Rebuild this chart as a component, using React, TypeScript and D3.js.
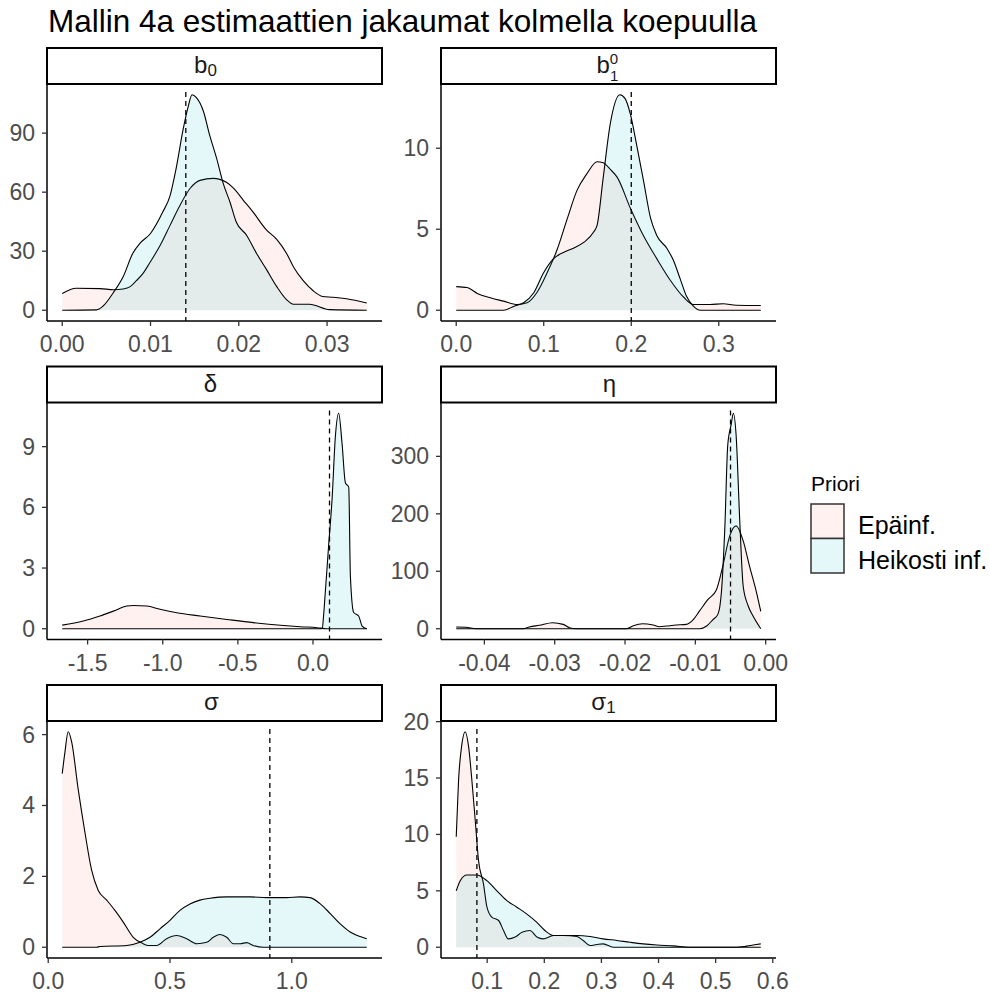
import * as d3 from 'd3';
import React from 'react';

type Pt = [number, number];

// facet order and legend
const priorNames = ['Epäinf.', 'Heikosti inf.'];
const priorColors = ['#F8766D', '#00BFC4'];

// density estimates: [value, density]
const b0Epainf: Pt[] = [[0, 8.5], [0.0016, 11.2], [0.0043, 11], [0.0058, 10.4], [0.0069, 10.8], [0.0077, 12], [0.0084, 15], [0.0092, 19], [0.0099, 24], [0.0111, 33], [0.0122, 43], [0.0133, 53], [0.0145, 62], [0.0156, 66], [0.0171, 67], [0.0186, 65], [0.0194, 62], [0.0205, 56], [0.0216, 50], [0.0231, 41], [0.0243, 36], [0.0254, 29], [0.0262, 22], [0.0273, 15], [0.0284, 10], [0.0295, 7], [0.0307, 6.6], [0.0322, 5.8], [0.0345, 3.7]];
const b0Heikosti: Pt[] = [[0, 0], [0.0039, 0.2], [0.0046, 2], [0.0058, 9], [0.0069, 17], [0.008, 29], [0.0088, 34], [0.01, 39], [0.0114, 50], [0.0122, 58], [0.0129, 72], [0.0137, 92], [0.0143, 104], [0.0147, 109.5], [0.0152, 108], [0.016, 101], [0.0167, 89], [0.0175, 77], [0.0182, 65], [0.019, 55], [0.0197, 45], [0.0209, 38], [0.022, 29], [0.0231, 21], [0.0243, 12], [0.0254, 5.4], [0.0262, 3], [0.028, 3], [0.0303, 0.3], [0.0345, 0]];

const b1Epainf: Pt[] = [[0, 1.46], [0.0125, 1.4], [0.024, 1.04], [0.039, 0.77], [0.054, 0.56], [0.07, 0.35], [0.081, 0.46], [0.092, 1.08], [0.104, 2.33], [0.115, 3.7], [0.127, 5.67], [0.138, 7.4], [0.149, 8.4], [0.161, 9.17], [0.168, 9.1], [0.176, 8.7], [0.184, 8.2], [0.199, 6.3], [0.214, 4.6], [0.229, 3.2], [0.244, 1.9], [0.26, 0.8], [0.271, 0.35], [0.29, 0.35], [0.305, 0.4], [0.32, 0.31], [0.348, 0.29]];
const b1Heikosti: Pt[] = [[0, 0], [0.054, 0], [0.066, 0.25], [0.077, 0.46], [0.0886, 1.08], [0.1, 2.33], [0.111, 3.17], [0.123, 3.58], [0.134, 3.83], [0.146, 4.2], [0.157, 4.83], [0.161, 5.25], [0.168, 8.2], [0.176, 11.5], [0.187, 13.3], [0.193, 13.06], [0.199, 12.1], [0.206, 10.25], [0.214, 8], [0.222, 5.7], [0.229, 4.63], [0.241, 3.8], [0.248, 3.1], [0.256, 1.92], [0.263, 0.875], [0.271, 0.25], [0.279, 0], [0.348, 0]];

const deltaEpainf: Pt[] = [[-1.669, 0.18], [-1.529, 0.38], [-1.418, 0.63], [-1.329, 0.87], [-1.24, 1.12], [-1.196, 1.15], [-1.107, 1.12], [-1.018, 0.96], [-0.907, 0.79], [-0.751, 0.63], [-0.573, 0.46], [-0.396, 0.3], [-0.196, 0.16], [-0.084, 0.1], [0.027, 0.05], [0.093, 0], [0.358, 0]];
const deltaHeikosti: Pt[] = [[-1.669, 0], [0.062, 0], [0.07, 0.6], [0.082, 1.8], [0.104, 4.1], [0.127, 6.4], [0.149, 9.5], [0.171, 10.65], [0.193, 9.2], [0.216, 7.2], [0.238, 7.0], [0.249, 2.6], [0.271, 0.8], [0.304, 0.63], [0.327, 0.13], [0.358, 0]];

const etaEpainf: Pt[] = [[-0.044, 2.9], [-0.0426, 2.5], [-0.0412, 0], [-0.0345, 0], [-0.0336, 3], [-0.0322, 6], [-0.0303, 10.5], [-0.0288, 7.6], [-0.0279, 1.7], [-0.027, 0], [-0.0198, 0], [-0.0189, 4.7], [-0.0175, 8.7], [-0.016, 6.4], [-0.0151, 3.5], [-0.0141, 4.7], [-0.0127, 6.4], [-0.0113, 7.6], [-0.0103, 16], [-0.0094, 31], [-0.0082, 51], [-0.007, 68], [-0.0061, 109], [-0.0051, 162], [-0.0042, 179], [-0.0032, 153], [-0.0023, 109], [-0.0013, 63], [-0.0007, 30]];
const etaHeikosti: Pt[] = [[-0.044, 0], [-0.0094, 0], [-0.0084, 4.7], [-0.0075, 16], [-0.0068, 25], [-0.0063, 63], [-0.0058, 179], [-0.0054, 319], [-0.0049, 356], [-0.0046, 375], [-0.0042, 336], [-0.0037, 191], [-0.0032, 74], [-0.0025, 40], [-0.0018, 22], [-0.0007, 0]];

const sigmaEpainf: Pt[] = [[0.0575, 4.9], [0.0685, 5.5], [0.082, 6.08], [0.096, 5.8], [0.123, 4.46], [0.151, 3.23], [0.178, 2.18], [0.205, 1.61], [0.24, 1.33], [0.274, 1.04], [0.308, 0.71], [0.349, 0.28], [0.39, 0.1], [0.411, 0.05], [0.445, 0.05], [0.486, 0.24], [0.527, 0.33], [0.568, 0.24], [0.61, 0.1], [0.651, 0.14], [0.678, 0.28], [0.705, 0.36], [0.733, 0.28], [0.76, 0.1], [0.788, 0.1], [0.815, 0.13], [0.842, 0.05], [0.884, 0], [1.308, 0]];
const sigmaHeikosti: Pt[] = [[0.0575, 0], [0.199, 0], [0.212, 0.02], [0.322, 0.05], [0.377, 0.14], [0.418, 0.28], [0.459, 0.52], [0.5, 0.76], [0.541, 1.04], [0.582, 1.22], [0.623, 1.33], [0.664, 1.38], [0.733, 1.42], [0.829, 1.42], [0.897, 1.4], [0.979, 1.4], [1.034, 1.42], [1.075, 1.4], [1.116, 1.23], [1.158, 0.95], [1.199, 0.66], [1.24, 0.43], [1.281, 0.3], [1.308, 0.24]];

const sigma1Epainf: Pt[] = [[0.0458, 9.8], [0.0499, 14.8], [0.0557, 18], [0.0615, 19.1], [0.0674, 17.8], [0.0732, 14.8], [0.079, 11.3], [0.0848, 7.7], [0.0936, 5.6], [0.0994, 3.6], [0.108, 2.67], [0.12, 2.37], [0.1286, 1.48], [0.137, 0.74], [0.149, 0.9], [0.161, 1.33], [0.175, 1.48], [0.187, 0.9], [0.198, 0.74], [0.216, 1.04], [0.233, 1.04], [0.257, 0.95], [0.268, 0.6], [0.28, 0.15], [0.292, 0.24], [0.303, 0.3], [0.321, 0], [0.536, 0], [0.554, 0.1], [0.571, 0.24], [0.579, 0.3]];
const sigma1Heikosti: Pt[] = [[0.0458, 5.0], [0.0528, 5.9], [0.0645, 6.4], [0.0819, 6.4], [0.0994, 5.9], [0.117, 5.0], [0.134, 4.15], [0.152, 3.55], [0.169, 2.96], [0.187, 2.2], [0.201, 1.48], [0.216, 1.04], [0.233, 1.04], [0.257, 1.04], [0.28, 0.95], [0.303, 0.74], [0.327, 0.6], [0.35, 0.44], [0.373, 0.3], [0.397, 0.2], [0.426, 0.12], [0.455, 0], [0.579, 0]];

// dashed reference values
const trueValues = [0.014, 0.2, 0.11, -0.005, 0.91, 0.082];

const xTicks = [[0, 0.01, 0.02, 0.03], [0, 0.1, 0.2, 0.3], [-1.5, -1, -0.5, 0], [-0.04, -0.03, -0.02, -0.01, 0], [0, 0.5, 1], [0.1, 0.2, 0.3, 0.4, 0.5, 0.6]];
const xFormats = ['.2f', '.1f', '.1f', '.2f', '.1f', '.1f'];
const yTicks = [[0, 30, 60, 90], [0, 5, 10], [0, 3, 6, 9], [0, 100, 200, 300], [0, 2, 4, 6], [0, 5, 10, 15, 20]];

const series = [
  [b0Epainf, b0Heikosti],
  [b1Epainf, b1Heikosti],
  [deltaEpainf, deltaHeikosti],
  [etaEpainf, etaHeikosti],
  [sigmaEpainf, sigmaHeikosti],
  [sigma1Epainf, sigma1Heikosti],
];

const locale = d3.formatLocale({ decimal: '.', thousands: ',', grouping: [3], currency: ['', ''], minus: '-' });
const FONT = '"Liberation Sans", Arial, sans-serif';

const colX = [47, 441];
const panelW = 335;
const stripTop = 48;
const stripH = 36;
const panelH = 237;
const rowStep = 318.5;

function StripLabel({ i, cx, y }: { i: number; cx: number; y: number }) {
  const s = { fontFamily: FONT, fontSize: 24, fill: '#1A1A1A' } as const;
  if (i === 0) return <text x={cx - 9} y={y} textAnchor="middle" style={s}>b<tspan fontSize={17} dy={3}>0</tspan></text>;
  if (i === 1) {
    // b with stacked sub- and superscript
    const bx = cx - 12;
    return (
      <text x={bx} y={y} style={s}>b<tspan fontSize={15} dy={-9}>0</tspan><tspan fontSize={15} x={bx + 13.5} dy={17}>1</tspan></text>
    );
  }
  if (i === 2) return <text x={cx - 4} y={y} textAnchor="middle" style={s}>δ</text>;
  if (i === 3) return <text x={cx + 1} y={y} textAnchor="middle" style={s}>η</text>;
  if (i === 4) return <text x={cx - 3} y={y} textAnchor="middle" style={s}>σ</text>;
  return <text x={cx - 5} y={y} textAnchor="middle" style={s}>σ<tspan fontSize={17} dy={3}>1</tspan></text>;
}

function Panel({ i }: { i: number }) {
  const col = i % 2;
  const row = Math.floor(i / 2);
  const x0 = colX[col];
  const sTop = stripTop + row * rowStep;
  const pTop = sTop + stripH;
  const pBot = pTop + panelH;

  const all = series[i][0].concat(series[i][1]);
  const [xmin, xmax] = d3.extent(all, d => d[0]) as [number, number];
  const ymax = d3.max(all, d => d[1]) as number;
  const xpad = (xmax - xmin) * 0.05;
  const x = d3.scaleLinear().domain([xmin - xpad, xmax + xpad]).range([x0, x0 + panelW]);
  const y = d3.scaleLinear().domain([-0.05 * ymax, 1.05 * ymax]).range([pBot, pTop]);

  const area = d3.area<Pt>().x(d => x(d[0])).y0(y(0)).y1(d => y(d[1])).curve(d3.curveMonotoneX);
  const line = d3.line<Pt>().x(d => x(d[0])).y(d => y(d[1])).curve(d3.curveMonotoneX);
  const fmt = locale.format(xFormats[i]);

  return (
    <g>
      {series[i].map((s, k) => (
        <g key={k}>
          <path d={area(s) || ''} fill={priorColors[k]} fillOpacity={0.1} />
          <path d={line(s) || ''} fill="none" stroke="#000" strokeWidth={1.1} />
        </g>
      ))}
      <line x1={x(trueValues[i])} x2={x(trueValues[i])} y1={pTop + 8} y2={pBot} stroke="#000" strokeWidth={1.3} strokeDasharray="5,4" />
      {/* axes */}
      <line x1={x0} x2={x0} y1={pTop} y2={pBot} stroke="#000" strokeWidth={1.5} />
      <line x1={x0} x2={x0 + panelW} y1={pBot} y2={pBot} stroke="#000" strokeWidth={1.5} />
      {yTicks[i].map(t => (
        <g key={'y' + t}>
          <line x1={x0 - 5} x2={x0} y1={y(t)} y2={y(t)} stroke="#333" strokeWidth={1.3} />
          <text x={x0 - 12} y={y(t)} dy={8} textAnchor="end" style={{ fontFamily: FONT, fontSize: 23, fill: '#4D4D4D' }}>{t}</text>
        </g>
      ))}
      {xTicks[i].map(t => (
        <g key={'x' + t}>
          <line x1={x(t)} x2={x(t)} y1={pBot} y2={pBot + 5} stroke="#333" strokeWidth={1.3} />
          <text x={x(t)} y={pBot + 31} textAnchor="middle" style={{ fontFamily: FONT, fontSize: 23, fill: '#4D4D4D' }}>{fmt(t)}</text>
        </g>
      ))}
      <rect x={x0} y={sTop} width={panelW} height={stripH} fill="#fff" stroke="#000" strokeWidth={2} />
      <StripLabel i={i} cx={x0 + panelW / 2} y={sTop + 25} />
    </g>
  );
}

export default function App() {
  return (
    <svg width={989} height={994} style={{ position: 'absolute', left: 0, top: 0, background: '#fff' }}>
      <rect width={989} height={994} fill="#fff" />
      <text x={48} y={32} style={{ fontFamily: FONT, fontSize: 31.5, fill: '#000' }}>Mallin 4a estimaattien jakaumat kolmella koepuulla</text>
      {d3.range(6).map(i => <Panel key={i} i={i} />)}
      <g>
        <text x={811} y={491} style={{ fontFamily: FONT, fontSize: 21, fill: '#000' }}>Priori</text>
        {priorNames.map((n, k) => (
          <g key={n}>
            <rect x={811} y={504 + k * 34.5} width={33} height={34.5} fill="#fff" />
            <rect x={811} y={504 + k * 34.5} width={33} height={34.5} fill={priorColors[k]} fillOpacity={0.1} stroke="#333" strokeWidth={1.5} />
            <text x={858} y={534 + k * 35} style={{ fontFamily: FONT, fontSize: 25, fill: '#000' }}>{n}</text>
          </g>
        ))}
      </g>
    </svg>
  );
}
